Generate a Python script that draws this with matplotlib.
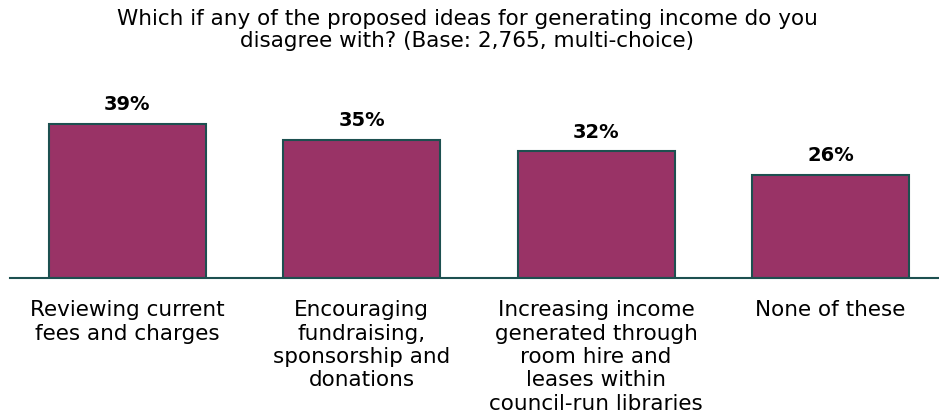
import matplotlib
matplotlib.use("Agg")
import matplotlib.pyplot as plt

categories = [
    "Reviewing current\nfees and charges",
    "Encouraging\nfundraising,\nsponsorship and\ndonations",
    "Increasing income\ngenerated through\nroom hire and\nleases within\ncouncil-run libraries",
    "None of these",
]
values = [39, 35, 32, 26]
value_labels = ["39%", "35%", "32%", "26%"]
title = "Which if any of the proposed ideas for generating income do you\ndisagree with? (Base: 2,765, multi-choice)"

plt.rcParams['font.family'] = ['DejaVu Sans']

W, H = 939, 415
fig = plt.figure(figsize=(W / 100, H / 100), dpi=100)
ax_bottom_px = 278
ax_top_px = 100
ax = fig.add_axes([10 / W, (H - ax_bottom_px) / H, 1 - 10 / W, (ax_bottom_px - ax_top_px) / H])

edge = "#1d5050"
x = list(range(len(categories)))
bars = ax.bar(x, values, width=0.67, color="#993366", edgecolor=edge, linewidth=1.5, zorder=2)
ax.set_xlim(-0.5, 3.463)
ax.set_ylim(0, 45)

for b, lab in zip(bars, value_labels):
    ax.annotate(lab, (b.get_x() + b.get_width() / 2, b.get_height()),
                xytext=(0, 7), textcoords="offset points", ha="center", va="bottom",
                fontsize=14, fontweight="bold", color="#000000")

for xi, c in zip(x, categories):
    ax.annotate(c, (xi, 0), xytext=(0, -16), textcoords="offset points",
                ha="center", va="top", fontsize=15.5, linespacing=1.21, color="#000000",
                annotation_clip=False)

for s in ["top", "right", "left"]:
    ax.spines[s].set_visible(False)
ax.spines["bottom"].set_color(edge)
ax.spines["bottom"].set_linewidth(1.5)
ax.set_xticks([])
ax.set_yticks([])

fig.text(0.5 - 2 / W, 1 - 9 / H, title, ha="center", va="top", fontsize=15.5, linespacing=1.15)

fig.savefig("out.png", dpi=100)
